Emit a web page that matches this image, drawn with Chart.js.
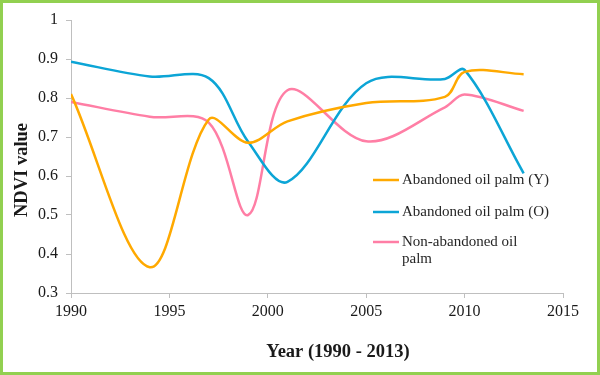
<!DOCTYPE html>
<html>
<head>
<meta charset="utf-8">
<script src="https://cdn.jsdelivr.net/npm/chart.js@4.4.0/dist/chart.umd.min.js"></script>
<style>
  body { margin: 0; background: #fff; }
  canvas { display: block; }
</style>
</head>
<body>
<canvas id="ndvi" width="600" height="375"></canvas>
<script>
// years of the image dates
const years = [1990, 1994, 1997, 1999, 2001, 2005, 2009, 2010, 2013];
// NDVI values
const youngAbandoned = [0.81, 0.366, 0.745, 0.685, 0.74, 0.787, 0.803, 0.867, 0.861];
const oldAbandoned = [0.893, 0.855, 0.851, 0.688, 0.585, 0.838, 0.849, 0.872, 0.607];
const nonAbandoned = [0.79, 0.752, 0.737, 0.50, 0.82, 0.689, 0.776, 0.809, 0.767];
const seriesNames = ['Abandoned oil palm (Y)', 'Abandoned oil palm (O)', ['Non-abandoned oil', 'palm']];
const xTicks = [1990, 1995, 2000, 2005, 2010, 2015];

const colors = ['#FFA900', '#0CA5D6', '#FF7EA5'];
const serif = '"Liberation Serif", "Times New Roman", serif';

function points(vals) {
    return years.map((y, i) => ({ x: y, y: vals[i] }));
}

// frame, axis titles and the legend box drawn inside the plot
const decorations = {
    id: 'decorations',
    beforeDraw(chart) {
        const c = chart.ctx;
        c.save();
        c.fillStyle = '#fff';
        c.fillRect(0, 0, chart.width, chart.height);
        c.restore();
    },
    afterDraw(chart) {
        const c = chart.ctx;
        c.save();
        c.fillStyle = '#1a1a1a';
        c.font = 'bold 18.5px ' + serif;
        c.textAlign = 'center';
        c.textBaseline = 'middle';
        c.fillText('Year (1990 - 2013)', 338, 352);
        c.translate(22, 170);
        c.rotate(-Math.PI / 2);
        c.fillText('NDVI value', 0, 0);
        c.restore();

        // legend
        c.save();
        c.font = '15px ' + serif;
        c.textAlign = 'left';
        c.textBaseline = 'middle';
        const rows = [180, 212, 242];
        seriesNames.forEach((name, i) => {
            c.strokeStyle = colors[i];
            c.lineWidth = 2.5;
            c.beginPath();
            c.moveTo(373, rows[i]);
            c.lineTo(399, rows[i]);
            c.stroke();
            c.fillStyle = '#262626';
            const lines = Array.isArray(name) ? name : [name];
            lines.forEach((t, k) => c.fillText(t, 402, rows[i] + k * 17));
        });
        c.restore();

        // green frame
        c.save();
        c.strokeStyle = '#92D050';
        c.lineWidth = 3;
        c.strokeRect(1.5, 1.5, chart.width - 3, chart.height - 3);
        c.restore();
    }
};

new Chart(document.getElementById('ndvi'), {
    type: 'line',
    data: {
        datasets: [youngAbandoned, oldAbandoned, nonAbandoned].map((vals, i) => ({
            label: Array.isArray(seriesNames[i]) ? seriesNames[i].join(' ') : seriesNames[i],
            data: points(vals),
            borderColor: colors[i],
            borderWidth: 2.5,
            pointRadius: 0,
            tension: 0.34,
            fill: false
        }))
    },
    options: {
        responsive: false,
        animation: false,
        layout: { padding: { left: 0, top: 20, right: 37, bottom: 0 } },
        plugins: {
            legend: { display: false },
            tooltip: { enabled: false }
        },
        scales: {
            x: {
                type: 'linear',
                min: 1990,
                max: 2015,
                afterBuildTicks: (s) => { s.ticks = xTicks.map(v => ({ value: v })); },
                afterFit: (s) => { s.height = 82; },
                grid: { drawOnChartArea: false, drawTicks: true, tickLength: 5, color: '#BFBFBF' },
                border: { color: '#BFBFBF', width: 1 },
                ticks: {
                    callback: (v) => String(v),
                    color: '#1a1a1a',
                    font: { family: serif, size: 16 },
                    padding: 4,
                    maxRotation: 0
                }
            },
            y: {
                min: 0.3,
                max: 1,
                afterFit: (s) => { s.width = 71; },
                grid: { drawOnChartArea: false, drawTicks: true, tickLength: 5, color: '#BFBFBF' },
                border: { color: '#BFBFBF', width: 1 },
                ticks: {
                    stepSize: 0.1,
                    callback: (v) => String(Math.round(v * 10) / 10),
                    color: '#1a1a1a',
                    font: { family: serif, size: 16 },
                    padding: 8
                }
            }
        }
    },
    plugins: [decorations]
});
</script>
</body>
</html>
